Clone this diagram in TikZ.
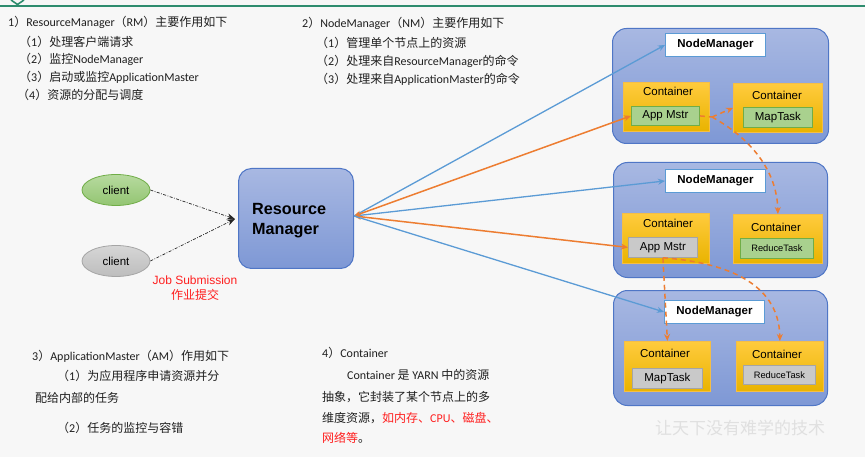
\documentclass[tikz,border=0pt]{standalone}
\usepackage{fontspec}
\setmainfont{Carlito}
\newfontfamily\cjk{Noto Sans CJK SC}
\newfontfamily\arial{Liberation Sans}
\usetikzlibrary{arrows.meta,shapes.geometric}
\definecolor{bg}{HTML}{F7F7F7}
\definecolor{topgreen}{HTML}{2E8C6E}
\definecolor{boxtop}{HTML}{A8B8E2}
\definecolor{boxbot}{HTML}{7E98D5}
\definecolor{boxline}{HTML}{4F76C6}
\definecolor{conttop}{HTML}{FFCB3D}
\definecolor{contbot}{HTML}{E9B300}
\definecolor{contline}{HTML}{F5BE45}
\definecolor{greenfill}{HTML}{A9D18E}
\definecolor{greenline}{HTML}{70AD47}
\definecolor{grayfill}{HTML}{C9C9C9}
\definecolor{grayline}{HTML}{A5A5A5}
\definecolor{blueline}{HTML}{5B9BD5}
\definecolor{orangeline}{HTML}{ED7D31}
\definecolor{txt}{HTML}{1F1F1F}
\definecolor{redtxt}{HTML}{FF1F1F}
\definecolor{cgreentop}{HTML}{B7DA9F}
\definecolor{cgreenbot}{HTML}{93C572}
\definecolor{cgraytop}{HTML}{D6D6D6}
\definecolor{cgraybot}{HTML}{BDBDBD}
\newcommand\zh[1]{{\cjk #1}}
\begin{document}
\begin{tikzpicture}[x=1pt,y=-1pt,
  bigbox/.style={draw=boxline, line width=1pt, top color=boxtop, bottom color=boxbot, rounded corners=14pt, inner sep=0pt, anchor=north west},
  nmlabel/.style={draw=blueline, fill=white, line width=0.9pt, minimum width=100, minimum height=23, inner sep=0pt, anchor=north west, font=\arial\bfseries\fontsize{11.5}{13}\selectfont},
  cont/.style={draw=contline, line width=0.8pt, top color=conttop, bottom color=contbot, inner sep=0pt, anchor=north west},
  ctext/.style={font=\arial\fontsize{11.5}{13}\selectfont, inner sep=0pt},
  task/.style={draw, line width=0.8pt, inner sep=0pt, anchor=north west, font=\arial\fontsize{11.5}{13}\selectfont},
  gtask/.style={task, draw=greenline, fill=greenfill},
  ytask/.style={task, draw=grayline, fill=grayfill},
  client/.style={ellipse, line width=0.8pt, minimum width=68, minimum height=31, inner sep=0pt, font=\arial\fontsize{11.5}{13}\selectfont},
  bluearr/.style={blueline, line width=1.3pt, -{Stealth[length=7pt,width=6pt]}},
  orangearr/.style={orangeline, line width=1.5pt, {Stealth[length=7pt,width=6pt]}-{Stealth[length=7pt,width=6pt]}},
  dasharr/.style={orangeline, line width=1.5pt, dash pattern=on 5pt off 4pt, -{Stealth[length=7pt,width=6pt]}},
  dashline/.style={orangeline, line width=1.5pt, dash pattern=on 5pt off 4pt},
  clientarr/.style={black!85, line width=0.7pt, dash pattern=on 3pt off 1.5pt on 0.8pt off 1.5pt, -{Stealth[length=8pt,width=6pt]}},
  tline/.style={anchor=west, inner sep=0pt, font=\fontsize{12}{14}\selectfont, text=txt}
]
\useasboundingbox (0,0) rectangle (865,457);
\fill[bg] (0,0) rectangle (865,457);
% top rule
\draw[topgreen, line width=2pt] (0,6) -- (865,6);
\draw[topgreen, line width=1.6pt] (11,0) -- (17.5,4.5) -- (24,0);

% text blocks
\node[tline] (t1) at (8,22) {1\zh{）}ResourceManager\zh{（}RM\zh{）主要作用如下}};
\node[tline] (t1a) at (19,42) {\zh{（}1\zh{）处理客户端请求}};
\node[tline] (t1b) at (19,59) {\zh{（}2\zh{）监控}NodeManager};
\node[tline] (t1c) at (19,77) {\zh{（}3\zh{）启动或监控}ApplicationMaster};
\node[tline] (t1d) at (17,95) {\zh{（}4\zh{）资源的分配与调度}};

\node[tline] (t2) at (302,23) {2\zh{）}NodeManager\zh{（}NM\zh{）主要作用如下}};
\node[tline] (t2a) at (316,43) {\zh{（}1\zh{）管理单个节点上的资源}};
\node[tline] (t2b) at (316,61) {\zh{（}2\zh{）处理来自}ResourceManager\zh{的命令}};
\node[tline] (t2c) at (316,79) {\zh{（}3\zh{）处理来自}ApplicationMaster\zh{的命令}};

\node[tline] (t3) at (32,356) {3\zh{）}ApplicationMaster\zh{（}AM\zh{）作用如下}};
\node[tline] (t3a) at (57,376) {\zh{（}1\zh{）为应用程序申请资源并分}};
\node[tline] (t3b) at (35,398) {\zh{配给内部的任务}};
\node[tline] (t3c) at (57,428) {\zh{（}2\zh{）任务的监控与容错}};

\node[tline] (t4) at (322,353) {4\zh{）}Container};
\node[tline] (t4a) at (347,375) {Container \zh{是} YARN \zh{中的资源}};
\node[tline] (t4b) at (322,397) {\zh{抽象，它封装了某个节点上的多}};
\node[tline] (t4c) at (322,418) {\zh{维度资源，}\textcolor{redtxt}{\zh{如内存、}CPU\zh{、磁盘、}}};
\node[tline] (t4d) at (322,438) {\textcolor{redtxt}{\zh{网络等}}\zh{。}};

% watermark
\node[inner sep=0pt, text=black!12, font=\cjk\fontsize{17}{19}\selectfont] (wm) at (740,428) {让天下没有难学的技术};

% clients and RM
\node[client, draw=greenline, top color=cgreentop, bottom color=cgreenbot] (cl1) at (116,190) {client};
\node[client, draw=grayline, top color=cgraytop, bottom color=cgraybot] (cl2) at (116,261) {client};
\node[bigbox, rounded corners=13pt, minimum width=115, minimum height=100] (rm) at (238,168) {};
\node[anchor=west, inner sep=0pt, align=left, font=\arial\bfseries\fontsize{16.2}{20}\selectfont] (rmt) at (252,221) {Resource\\Manager};
\coordinate (rmin) at (235,219);
\coordinate (rmr) at (354,216);
\draw[clientarr] (cl1.east) -- (rmin);
\draw[clientarr] (cl2.east) -- (rmin);
\node[align=center, inner sep=0pt, text=redtxt, font=\arial\fontsize{12}{15}\selectfont] (job) at (195,288) {Job Submission\\\zh{作业提交}};

% NodeManager 1
\node[bigbox, minimum width=216, minimum height=115] (nm1) at (612,28) {};
\node[nmlabel] (nm1l) at (665,33) {NodeManager};
\node[cont, minimum width=86, minimum height=49] (c1) at (623,82) {};
\node[ctext] (c1t) at (668,91) {Container};
\node[gtask, minimum width=68, minimum height=19] (am1) at (631,106) {App Mstr};
\node[cont, minimum width=89, minimum height=49] (c2) at (733,83) {};
\node[ctext] (c2t) at (777,95) {Container};
\node[gtask, minimum width=69, minimum height=20] (mt1) at (743,107) {MapTask};

% NodeManager 2
\node[bigbox, minimum width=214, minimum height=115] (nm2) at (613,162) {};
\node[nmlabel] (nm2l) at (665,169) {NodeManager};
\node[cont, minimum width=87, minimum height=50] (c3) at (622,213) {};
\node[ctext] (c3t) at (668,223) {Container};
\node[ytask, minimum width=69, minimum height=20] (am2) at (628,237) {App Mstr};
\node[cont, minimum width=89, minimum height=49] (c4) at (733,214) {};
\node[ctext] (c4t) at (776,227) {Container};
\node[gtask, minimum width=73, minimum height=20, font=\arial\fontsize{9.3}{11}\selectfont] (rt1) at (740,238) {ReduceTask};

% NodeManager 3
\node[bigbox, minimum width=214, minimum height=115] (nm3) at (613,290) {};
\node[nmlabel] (nm3l) at (664,300) {NodeManager};
\node[cont, minimum width=86, minimum height=50] (c5) at (624,341) {};
\node[ctext] (c5t) at (665,353) {Container};
\node[ytask, minimum width=70, minimum height=20] (mt2) at (632,368) {MapTask};
\node[cont, minimum width=87, minimum height=50] (c6) at (736,341) {};
\node[ctext] (c6t) at (777,354) {Container};
\node[ytask, minimum width=72, minimum height=19, font=\arial\fontsize{9.3}{11}\selectfont] (rt2) at (743,365) {ReduceTask};

% RM connectors
\draw[bluearr] (rmr) -- (nm1l.west);
\draw[orangearr] (rmr) -- (am1.west);
\draw[bluearr] (rmr) -- (nm2l.west);
\draw[orangearr] (rmr) -- (am2.west);
\draw[bluearr] (rmr) -- (nm3l.west);

% AM connectors
\coordinate (split1) at (712,117);
\draw[dashline] (am1.east) -- (split1);
\draw[dasharr] (split1) -- (c2.west);
\draw[dasharr] (split1) .. controls (750,138) and (777,170) .. (c4.north);
\draw[dasharr] (am2.south) -- (c5.north);
\draw[dasharr] (am2.south) .. controls (720,262) and (779,280) .. (c6.north);
\end{tikzpicture}
\end{document}
